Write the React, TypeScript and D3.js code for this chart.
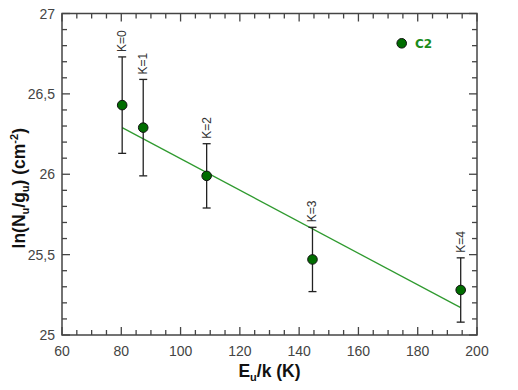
import React, { useEffect, useRef } from "react";
import * as d3 from "d3";

// upper level energy (K), ln(Nu/gu), error, label
const energies = [80.3, 87.4, 108.8, 144.5, 194.5];
const lnValues = [26.43, 26.29, 25.99, 25.47, 25.28];
const errors = [0.3, 0.3, 0.2, 0.2, 0.2];
const levelLabels = ["K=0", "K=1", "K=2", "K=3", "K=4"];

// rotational diagram fit, end points
const fitX = [80.3, 194.5];
const fitY = [26.29, 25.17];

const xTicks = [60, 80, 100, 120, 140, 160, 180, 200];
const yTicks = [25, 25.5, 26, 26.5, 27];
const seriesName = "C2";

const App = () => {
  const ref = useRef<SVGSVGElement>(null);

  useEffect(() => {
    var width = 518,
      height = 390;
    var margin = { top: 13.5, right: 41, bottom: 55, left: 62 };

    var svg = d3.select(ref.current);
    svg.selectAll("*").remove();

    var x = d3
      .scaleLinear()
      .domain([60, 200])
      .range([margin.left, width - margin.right]);
    var y = d3
      .scaleLinear()
      .domain([25, 27])
      .range([height - margin.bottom, margin.top]);

    var x0 = x.range()[0],
      x1 = x.range()[1],
      y0 = y.range()[0],
      y1 = y.range()[1];

    var font = "Helvetica, Arial, 'Liberation Sans', sans-serif";
    var axisColor = "#444";

    svg
      .append("rect")
      .attr("x", x0)
      .attr("y", y1)
      .attr("width", x1 - x0)
      .attr("height", y0 - y1)
      .attr("fill", "none")
      .attr("stroke", axisColor)
      .attr("stroke-width", 1.5);

    // tick labels
    svg
      .selectAll(".xt")
      .data(xTicks)
      .enter()
      .append("text")
      .attr("x", function (d) { return x(d); })
      .attr("y", y0 + 21)
      .attr("text-anchor", "middle")
      .attr("font-family", font)
      .attr("font-size", 14)
      .attr("fill", "#444")
      .text(function (d) { return String(d); });

    svg
      .selectAll(".yt")
      .data(yTicks)
      .enter()
      .append("text")
      .attr("x", x0 - 7)
      .attr("y", function (d) { return y(d) + 5; })
      .attr("text-anchor", "end")
      .attr("font-family", font)
      .attr("font-size", 14)
      .attr("fill", "#444")
      .text(function (d) { return String(d).replace(".", ","); });

    // axis titles
    var xt = svg
      .append("text")
      .attr("x", (x0 + x1) / 2)
      .attr("y", 377)
      .attr("text-anchor", "middle")
      .attr("font-family", font)
      .attr("font-size", 17.5)
      .attr("font-weight", "bold")
      .attr("fill", "#111");
    xt.append("tspan").text("E");
    xt.append("tspan").attr("font-size", 11).attr("dy", 4).text("u");
    xt.append("tspan").attr("dy", -4).text("/k (K)");

    var yt = svg
      .append("text")
      .attr("transform", "translate(25," + ((y1 + y0) / 2 + 14) + ") rotate(-90)")
      .attr("text-anchor", "middle")
      .attr("font-family", font)
      .attr("font-size", 17.5)
      .attr("font-weight", "bold")
      .attr("fill", "#111");
    yt.append("tspan").text("ln(N");
    yt.append("tspan").attr("font-size", 11).attr("dy", 4).text("u");
    yt.append("tspan").attr("dy", -4).text("/g");
    yt.append("tspan").attr("font-size", 11).attr("dy", 4).text("u");
    yt.append("tspan").attr("dy", -4).text(") (cm");
    yt.append("tspan").attr("font-size", 11).attr("dy", -7).text("-2");
    yt.append("tspan").attr("dy", 7).text(")");

    // fit line
    var line = d3
      .line<number>()
      .x(function (d) { return x(fitX[d]); })
      .y(function (d) { return y(fitY[d]); });
    svg
      .append("path")
      .attr("d", line([0, 1]))
      .attr("fill", "none")
      .attr("stroke", "#2f9a2f")
      .attr("stroke-width", 1.3);

    var pts = energies.map(function (e, i) {
      return { e: e, v: lnValues[i], err: errors[i], label: levelLabels[i] };
    });

    // error bars
    var eb = svg.append("g").attr("stroke", "#222").attr("stroke-width", 1.3);
    pts.forEach(function (d) {
      eb.append("line").attr("x1", x(d.e)).attr("x2", x(d.e)).attr("y1", y(d.v - d.err)).attr("y2", y(d.v + d.err));
      [d.v - d.err, d.v + d.err].forEach(function (v) {
        eb.append("line").attr("x1", x(d.e) - 4).attr("x2", x(d.e) + 4).attr("y1", y(v)).attr("y2", y(v));
      });
    });

    // points
    svg
      .selectAll(".pt")
      .data(pts)
      .enter()
      .append("circle")
      .attr("cx", function (d) { return x(d.e); })
      .attr("cy", function (d) { return y(d.v); })
      .attr("r", 4.8)
      .attr("fill", "#006d00")
      .attr("stroke", "#111")
      .attr("stroke-width", 1);

    // level labels
    svg
      .selectAll(".lab")
      .data(pts)
      .enter()
      .append("text")
      .attr("transform", function (d) {
        return "translate(" + (x(d.e) + 4) + "," + (y(d.v + d.err) - 5) + ") rotate(-90)";
      })
      .attr("text-anchor", "start")
      .attr("font-family", font)
      .attr("font-size", 12)
      .attr("fill", "#333")
      .text(function (d) { return d.label; });

    // legend
    svg
      .append("circle")
      .attr("cx", 401.7)
      .attr("cy", 43.3)
      .attr("r", 4.8)
      .attr("fill", "#006d00")
      .attr("stroke", "#111");
    svg
      .append("text")
      .attr("x", 415)
      .attr("y", 47.5)
      .attr("font-family", "'DejaVu Sans', sans-serif")
      .attr("font-size", 12)
      .attr("font-weight", "bold")
      .attr("fill", "#1a8c1a")
      .text(seriesName);

    // minor + major ticks on all four sides, pointing inward, drawn last
    var tg = svg.append("g").attr("class", "frame-ticks");
    d3.range(60, 200.01, 5).forEach(function (v) {
      var len = v % 20 === 0 ? 8 : 5;
      tg.append("line").attr("x1", x(v)).attr("y1", y0).attr("x2", x(v)).attr("y2", y0 - len)
        .style("stroke", axisColor).style("stroke-width", "1.3px");
      tg.append("line").attr("x1", x(v)).attr("y1", y1).attr("x2", x(v)).attr("y2", y1 + len)
        .style("stroke", axisColor).style("stroke-width", "1.3px");
    });
    d3.range(0, 21).forEach(function (i) {
      var v = 25 + i * 0.1;
      var len = i % 5 === 0 ? 8 : 5;
      tg.append("line").attr("x1", x0).attr("y1", y(v)).attr("x2", x0 + len).attr("y2", y(v))
        .style("stroke", axisColor).style("stroke-width", "1.3px");
      tg.append("line").attr("x1", x1).attr("y1", y(v)).attr("x2", x1 - len).attr("y2", y(v))
        .style("stroke", axisColor).style("stroke-width", "1.3px");
    });
  }, []);

  return (
    <svg
      ref={ref}
      width={518}
      height={390}
      style={{ position: "absolute", left: 0, top: 0 }}
    />
  );
};

export default App;
